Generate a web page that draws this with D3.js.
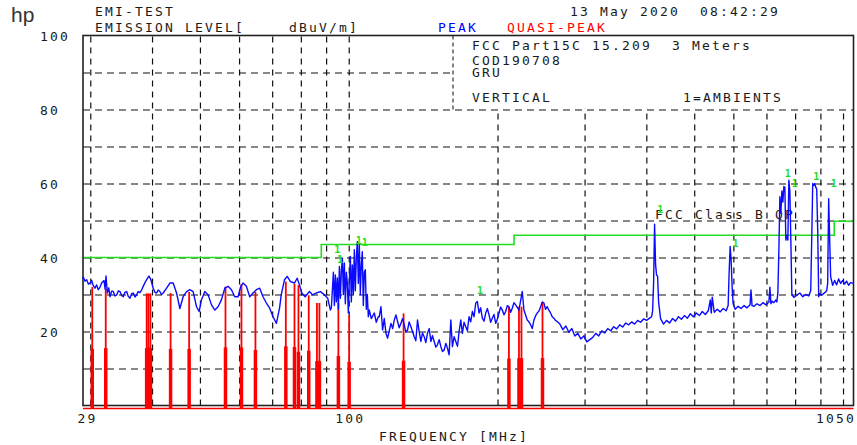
<!DOCTYPE html>
<html>
<head>
<meta charset="utf-8">
<script src="https://cdn.jsdelivr.net/npm/d3@7"></script>
<style>
  body { margin: 0; background: #fff; }
  svg { display: block; }
  .mono { font-family: "DejaVu Sans Mono", monospace; font-size: 13px; letter-spacing: 2.17px; fill: #1a1a1a; white-space: pre; }
</style>
</head>
<body>
<svg id="chart" width="857" height="445"></svg>
<script>
// ---- Peak trace (MHz, dBuV/m) ----
const peakFreq = [
  29.00, 29.04, 29.28, 29.50, 29.75, 29.96, 30.20, 30.42, 30.66, 30.90, 31.14, 31.40, 31.63, 31.98, 32.14, 32.28,
  32.48, 32.70, 32.89, 33.14, 33.39, 33.65, 33.93, 34.20, 34.45, 34.70, 34.98, 35.25, 35.54, 35.80, 36.09, 36.37,
  36.65, 36.95, 37.23, 37.50, 37.81, 38.10, 38.39, 38.70, 39.01, 39.42, 39.79, 40.22, 40.55, 40.86, 41.17, 41.49,
  41.80, 42.13, 42.81, 43.47, 44.14, 44.84, 45.54, 46.24, 46.98, 47.70, 48.44, 49.21, 49.81, 50.37, 51.15, 51.94,
  52.77, 53.59, 54.41, 55.28, 56.14, 57.00, 57.91, 58.81, 59.72, 60.47, 61.12, 62.09, 63.05, 64.03, 65.05, 66.05,
  67.08, 68.14, 69.20, 70.27, 71.39, 72.49, 73.01, 74.14, 75.08, 76.24, 77.67, 78.65, 79.49, 80.35, 81.63, 83.27,
  84.56, 85.91, 87.64, 89.29, 90.67, 91.81,
  92.24, 92.67, 93.10, 93.54, 93.97, 94.41, 94.85, 95.29, 95.74, 96.18, 96.63, 97.08, 97.53, 97.98, 98.44, 98.90,
  99.36, 99.82, 100.29, 100.75, 101.22, 101.69, 102.17, 102.64, 103.12, 103.60, 104.09, 104.57, 105.06, 105.55,
  106.04, 106.53, 107.03, 107.53, 108.03, 108.53, 109.04, 109.55, 110.06, 111.08, 112.64, 113.69, 114.75,
  115.29, 116.20, 117.09, 118.0, 118.95, 119.84, 121.75, 122.7, 123.63, 124.6, 125.54, 126.5, 127.54, 128.5, 129.51,
  130.5, 131.51, 132.5, 133.61, 134.6, 135.67, 136.7, 137.77, 138.9, 139.96, 141.0, 142.12, 143.2, 144.32, 145.5,
  146.62, 147.7, 148.88, 150.0, 151.18, 152.4, 153.59, 154.8, 155.96, 157.2, 158.37, 159.63, 160.89, 162.09, 163.4,
  164.67, 166.0, 167.22, 168.54, 169.80, 171.1, 172.50, 173.8, 175.17, 176.5, 177.88, 179.3, 180.71, 182.06, 183.50,
  184.9, 186.34, 187.8, 189.31, 190.8, 192.23, 193.7, 195.20, 196.7, 198.31, 199.8, 201.37, 202.9, 204.48, 206.1,
  207.74, 209.3, 210.95, 212.6, 214.21, 215.9, 217.62, 219.3, 220.98, 224.39, 226.17, 229.71, 231.5, 233.37, 235.1,
  236.97, 238.8, 240.63, 242.5, 244.46, 246.3, 248.24, 250.1, 252.07, 254.0, 256.09, 258.0, 260.04, 262.0, 264.06,
  267.40, 271.15, 274.95, 278.81, 282.72, 286.69, 290.71, 294.79, 298.93, 303.12, 307.37, 311.69, 316.06, 320.49,
  324.99, 329.55, 334.17, 338.86, 343.61, 348.43, 353.32, 358.28, 363.31, 368.41, 373.58, 378.82, 384.13, 389.52,
  394.99, 400.53, 406.15, 409.95, 411.86, 413.78, 415.71, 417.64, 419.59, 421.54, 423.51, 427.46, 433.45, 439.50,
  445.65, 451.88, 458.19, 464.60, 471.09, 477.68, 484.35, 491.12, 497.99, 504.95, 512.01, 519.16, 526.42, 533.78,
  538.75, 541.26, 543.78, 548.85, 556.51, 564.29, 572.18, 580.18, 585.58, 588.31, 591.05, 593.81, 596.57, 599.35,
  604.94, 613.39, 621.96, 630.66, 639.47, 648.41, 651.43, 654.47, 660.57, 669.80, 679.16, 688.65, 698.27, 708.03,
  711.33, 714.64, 717.97, 724.66, 731.41, 734.82, 738.24, 741.68, 745.14, 748.61, 752.10, 755.60, 759.12, 762.66,
  766.21, 769.78, 773.37, 776.97, 780.59, 784.22, 787.88, 795.23, 806.35, 817.61, 829.04, 840.62, 852.37, 860.31,
  864.32, 868.35, 872.39, 876.46, 880.54, 884.64, 888.76, 892.90, 897.06, 905.43, 918.08, 926.64, 930.96, 935.29,
  939.65, 944.03, 952.84, 961.72, 970.69, 979.74, 988.87, 998.10, 1007.40, 1016.79, 1026.28, 1035.85, 1050
];
const peakLevel = [
  34.2, 34.7, 33.6, 34.0, 32.8, 33.1, 33.8, 32.4, 31.7, 32.6, 31.3, 32.0, 33.1, 33.8, 31.5, 35.0,
  30.4, 31.8, 29.4, 30.9, 30.8, 29.6, 29.9, 31.0, 30.8, 29.8, 29.4, 30.6, 30.8, 29.5, 29.0, 30.2,
  30.4, 29.3, 29.9, 30.8, 30.5, 31.2, 32.2, 33.2, 34.0, 35.0, 34.0, 31.7, 30.6, 30.4, 31.2, 30.8,
  30.0, 30.4, 31.7, 33.1, 33.1, 30.4, 26.2, 29.4, 30.8, 31.3, 30.8, 26.7, 25.4, 28.6, 30.8, 29.9,
  27.2, 25.8, 26.7, 28.6, 31.7, 32.2, 31.3, 29.4, 29.4, 32.2, 33.1, 32.2, 29.4, 30.4, 31.3, 31.7,
  29.4, 27.7, 26.3, 24.0, 22.2, 26.5, 29.9, 34.0, 34.9, 33.5, 33.1, 34.4, 32.6, 30.4, 29.4, 30.8,
  29.9, 30.4, 30.8, 29.9, 29.0, 25.8,
  26.5, 31.3, 36.0, 27.0, 35.3, 28.0, 34.5, 26.0, 37.6, 29.0, 36.5, 39.8, 30.0, 38.5, 27.5, 36.0,
  33.0, 25.0, 34.0, 40.3, 28.0, 38.0, 30.0, 42.1, 31.0, 40.0, 44.3, 33.0, 43.4, 30.0,
  38.0, 41.6, 27.0, 36.0, 36.7, 26.0, 30.0, 24.0, 25.8, 23.5, 25.0, 22.5, 24.0,
  24.0, 26.7, 20.4, 23.5, 19.5, 18.2, 22.2, 20.8, 23.1, 24.5, 22.7, 21.0, 22.2, 23.5, 21.8,
  19.8, 20.4, 22.6, 21.3, 20.0, 18.6, 17.5, 23.1, 19.8, 17.3, 19.6, 18.6, 17.0, 19.5, 20.8,
  17.3, 18.9, 17.3, 15.8, 16.4, 17.8, 15.9, 14.6, 15.0, 16.8, 15.5, 13.7, 23.1, 15.9, 18.6,
  17.3, 16.0, 20.0, 23.1, 19.5, 22.5, 21.3, 20.2, 24.0, 22.6, 25.4, 24.0, 27.7, 28.1, 25.0,
  26.4, 23.6, 22.8, 25.0, 26.2, 24.5, 22.5, 23.6, 24.6, 22.2, 23.3, 25.0, 26.6, 25.8, 24.5,
  25.4, 27.0, 26.7, 25.2, 26.3, 27.8, 27.2, 26.5, 25.8, 30.8, 25.8, 23.1, 22.6, 21.8, 20.8,
  23.1, 24.2, 25.0, 25.5, 26.7, 28.0, 27.7, 26.0, 26.7, 25.8, 25.0, 24.0, 23.6, 23.0, 22.7,
  22.0, 20.5, 21.5, 19.8, 20.8, 18.8, 19.5, 18.0, 18.8, 17.2, 17.8, 18.4, 19.5, 18.8,
  20.2, 19.6, 20.8, 20.2, 21.3, 20.7, 21.8, 21.2, 22.3, 21.8, 22.6, 22.0, 23.0, 22.5,
  23.4, 23.0, 23.6, 24.0, 25.5, 33.0, 49.0, 38.0, 35.2, 35.0, 28.0, 23.5, 22.0, 23.0,
  22.3, 23.5, 22.8, 24.0, 23.3, 24.3, 23.6, 24.8, 24.0, 25.0, 24.3, 25.4, 24.6, 25.6,
  28.5, 25.0, 29.3, 25.2, 26.0, 25.3, 26.2, 25.6, 27.0, 36.0, 43.0, 39.3, 32.0, 27.5,
  26.0, 26.8, 26.2, 27.0, 26.4, 27.2, 31.2, 27.0, 26.8, 27.5, 27.0, 27.8, 27.2, 28.0,
  32.0, 27.5, 28.2, 27.8, 28.5, 28.0, 30.5, 42.0, 56.4, 52.0, 58.0, 55.0, 59.2, 59.0,
  44.7, 46.0, 44.7, 60.9, 58.0, 44.7, 30.0, 29.2, 29.8, 30.4, 29.4, 30.0, 29.6, 31.0,
  45.0, 60.0, 59.5, 60.0, 59.0, 58.5, 47.4, 29.4, 30.2, 29.8, 30.5, 31.0, 33.0, 55.9,
  45.0, 34.8, 32.5, 33.8, 32.6, 34.2, 33.0, 33.8, 32.8, 33.6, 32.5, 33.2, 33.0
];

// ---- Quasi-peak measurements ----
const qpFreq  = [30.28, 32.24, 39.01, 39.33, 39.70, 43.61, 47.55, 56.32, 60.67, 64.75, 74.60, 77.67, 79.12,
                 83.00, 86.23, 87.24, 95.29, 100.2, 129.1, 210.9, 221.0, 223.6, 246.6];
const qpLevel = [32.0, 31.6, 30.3, 30.3, 30.3, 30.4, 30.7, 32.1, 32.8, 30.7, 33.5, 32.9, 32.5,
                 29.8, 27.7, 27.7, 27.7, 24.4, 24.9, 26.7, 26.7, 26.7, 27.7];
const qpFloor = [15.3, 15.5, 15.5, 15.7, 15.5, 15.3, 15.3, 15.7, 15.7, 15.0, 16.0, 15.8, 14.5,
                 14.8, 12.0, 12.0, 13.4, 11.8, 12.1, 12.7, 12.8, 12.8, 12.8];
const qpBaseLevel = -0.8;

// ---- Limit line: FCC Class B QP ----
const limitFreq  = [29, 88, 88, 216, 216, 960, 960, 1050];
const limitLevel = [40, 40, 43.5, 43.5, 46, 46, 49.8, 49.8];

// ---- "1" markers for ambient signals ----
const markerFreq  = [94.85, 96.0, 104.8, 107.8, 184.4, 427.0, 606.0, 773.0, 799.0, 882.6, 958.0];
const markerLevel = [41.2, 38.5, 43.6, 43.1, 30.1, 52.0, 42.8, 61.8, 59.1, 60.9, 59.1];

// ---- Axes ----
const xTickLabels = [29, 100, 1050];
const yTickLabels = [20, 40, 60, 80, 100];
const gridFreqs = [30, 40, 50, 60, 70, 80, 90, 100, 200, 300, 400, 500, 600, 700, 800, 900, 1000];
const gridLevels = [10, 20, 30, 40, 50, 60, 70, 80, 90];

const svg = d3.select("#chart");
const plotLeft = 83, plotRight = 853.5, plotTop = 35.5, plotBottom = 405.5;
const x = d3.scaleLog().domain([29, 1050]).range([plotLeft, plotRight]);
const y = d3.scaleLinear().domain([0, 100]).range([plotBottom, plotTop]);

// grid
const gx = svg.append("g").attr("transform", `translate(0,${plotBottom})`)
  .call(d3.axisBottom(x).tickValues(gridFreqs).tickSize(-(plotBottom - plotTop)).tickFormat(""));
gx.select(".domain").remove();
gx.selectAll(".tick line").attr("stroke", "#111").attr("stroke-width", 1.2).attr("stroke-dasharray", "6,5");

const gy = svg.append("g").attr("transform", `translate(${plotLeft},0)`)
  .call(d3.axisLeft(y).tickValues(gridLevels).tickSize(-(plotRight - plotLeft)).tickFormat(""));
gy.select(".domain").remove();
gy.selectAll(".tick line").attr("stroke", "#111").attr("stroke-width", 1.2).attr("stroke-dasharray", "7,5");

// info box
const boxX = 453;
svg.append("rect").attr("x", boxX).attr("y", plotTop).attr("width", plotRight - boxX).attr("height", y(80) - plotTop - 0.8)
  .attr("fill", "#fff");
svg.append("line").attr("x1", boxX).attr("x2", boxX).attr("y1", plotTop).attr("y2", y(80))
  .attr("stroke", "#222").attr("stroke-width", 1.1).attr("stroke-dasharray", "4,3");

const boxText = [
  {t: "FCC Part15C 15.209  3 Meters", x: 472, y: 50},
  {t: "COD190708", x: 472, y: 65},
  {t: "GRU", x: 472, y: 77},
  {t: "VERTICAL", x: 472, y: 101.5},
  {t: "1=AMBIENTS", x: 683, y: 101.5}
];
svg.selectAll(".boxtext").data(boxText).enter().append("text")
  .attr("class", "mono").attr("xml:space", "preserve")
  .attr("x", d => d.x).attr("y", d => d.y).text(d => d.t);

// limit line
const limitData = limitFreq.map((f, i) => [f, limitLevel[i]]);
svg.append("path").datum(limitData)
  .attr("fill", "none").attr("stroke", "#22dd22").attr("stroke-width", 1.6)
  .attr("d", d3.line().x(d => x(d[0])).y(d => y(d[1])));

svg.append("text").attr("class", "mono").attr("x", 655).attr("y", 219).text("FCC Class B QP");

// frame
svg.append("rect").attr("x", plotLeft).attr("y", plotTop).attr("width", plotRight - plotLeft).attr("height", plotBottom - plotTop)
  .attr("fill", "none").attr("stroke", "#222").attr("stroke-width", 1.6);

// quasi-peak trace: baseline plus measurement spikes
svg.append("line").attr("x1", plotLeft).attr("x2", plotRight).attr("y1", y(qpBaseLevel)).attr("y2", y(qpBaseLevel))
  .attr("stroke", "#ff0000").attr("stroke-width", 1.5);
const qp = qpFreq.map((f, i) => ({f, v: qpLevel[i], lo: qpFloor[i]}));
svg.selectAll(".qp").data(qp).enter().append("line")
  .attr("x1", d => x(d.f)).attr("x2", d => x(d.f))
  .attr("y1", y(qpBaseLevel)).attr("y2", d => y(d.v))
  .attr("stroke", "#ff0000").attr("stroke-width", 1.8);
svg.selectAll(".qplo").data(qp).enter().append("line")
  .attr("x1", d => x(d.f)).attr("x2", d => x(d.f))
  .attr("y1", y(qpBaseLevel)).attr("y2", d => y(d.lo))
  .attr("stroke", "#ff0000").attr("stroke-width", 3.5);

// peak trace
const peakData = peakFreq.map((f, i) => [f, peakLevel[i]]);
svg.append("path").datum(peakData)
  .attr("fill", "none").attr("stroke", "#0a0aff").attr("stroke-width", 1.4).attr("stroke-linejoin", "round")
  .attr("d", d3.line().x(d => x(d[0])).y(d => y(d[1])));

// markers
svg.selectAll(".mk").data(markerFreq.map((f, i) => [f, markerLevel[i]])).enter().append("text")
  .attr("x", d => x(d[0])).attr("y", d => y(d[1]))
  .attr("text-anchor", "middle")
  .style("font-family", "DejaVu Sans Mono, monospace").style("font-size", "10px").style("font-weight", "bold")
  .attr("fill", "#22dd22").text("1");

// y labels
const ay = svg.append("g").attr("transform", `translate(${plotLeft},0)`)
  .call(d3.axisLeft(y).tickValues(yTickLabels).tickSize(0).tickFormat(d3.format("d")));
ay.select(".domain").remove();
ay.selectAll(".tick text").attr("class", "mono").attr("x", 40 - plotLeft).attr("text-anchor", "start")
  .attr("dy", "0.36em").style("font-size", "13px").attr("font-family", null);

// x labels
const ax = svg.append("g").attr("transform", `translate(0,${plotBottom})`)
  .call(d3.axisBottom(x).tickValues(xTickLabels).tickSize(0).tickFormat(d3.format("d")));
ax.select(".domain").remove();
ax.selectAll(".tick text").attr("class", "mono").attr("y", 17).attr("dy", null)
  .attr("font-family", null).style("font-size", "13px")
  .attr("text-anchor", (d, i) => i === 0 ? "start" : (i === xTickLabels.length - 1 ? "end" : "middle"))
  .attr("dx", (d, i) => i === 0 ? -6 : (i === xTickLabels.length - 1 ? 2 : 1));

// header texts
const header = [
  {t: "EMI-TEST", x: 95, y: 16, c: "#1a1a1a"},
  {t: "EMISSION LEVEL[", x: 95, y: 31.5, c: "#1a1a1a"},
  {t: "dBuV/m]", x: 289, y: 31.5, c: "#1a1a1a"},
  {t: "13 May 2020  08:42:29", x: 570, y: 16, c: "#1a1a1a"},
  {t: "PEAK", x: 438, y: 31.5, c: "#0000ff"},
  {t: "QUASI-PEAK", x: 507, y: 31.5, c: "#ff0000"},
  {t: "FREQUENCY [MHz]", x: 379, y: 441, c: "#1a1a1a"}
];
svg.selectAll(".hdr").data(header).enter().append("text")
  .attr("class", "mono").attr("xml:space", "preserve")
  .attr("x", d => d.x).attr("y", d => d.y).style("fill", d => d.c).text(d => d.t);

svg.append("text").attr("x", 11).attr("y", 22)
  .style("font-family", "Liberation Sans, Arial, sans-serif").style("font-size", "21px")
  .attr("fill", "#333").text("hp");
</script>
</body>
</html>
